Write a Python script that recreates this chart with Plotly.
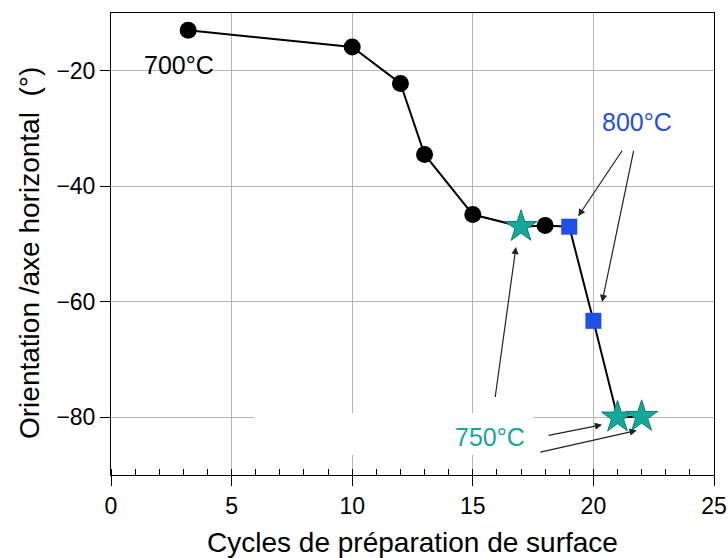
import plotly.graph_objects as go

# Data
cycles_700 = [3.2, 10, 12, 13, 15, 18]
orient_700 = [-13.0, -15.9, -22.2, -34.5, -44.9, -46.8]
cycles_750 = [17, 21, 22]
orient_750 = [-47.0, -80.0, -79.9]
cycles_800 = [19, 20]
orient_800 = [-47.0, -63.3]

path_x = [3.2, 10, 12, 13, 15, 17, 18, 19, 20, 21, 22]
path_y = [-13.0, -15.9, -22.2, -34.5, -44.9, -47.0, -46.8, -47.0, -63.3, -80.0, -79.9]

x_ticks = [0, 5, 10, 15, 20, 25]
y_ticks = [-80, -60, -40, -20]

BLUE = "#1f4fe6"
TEAL = "#13a89a"
FONT = "Liberation Sans, Arial, sans-serif"

fig = go.Figure()
fig.add_trace(go.Scatter(x=path_x, y=path_y, mode="lines",
                         line=dict(color="black", width=2), showlegend=False, hoverinfo="skip"))
fig.add_trace(go.Scatter(x=cycles_700, y=orient_700, mode="markers",
                         marker=dict(symbol="circle", size=17, color="black"), showlegend=False))
fig.add_trace(go.Scatter(x=cycles_800, y=orient_800, mode="markers",
                         marker=dict(symbol="square", size=16, color=BLUE), showlegend=False))
fig.add_trace(go.Scatter(x=cycles_750, y=orient_750, mode="markers",
                         marker=dict(symbol="star", size=24, color=TEAL,
                                     line=dict(color="#0a7f74", width=1)), showlegend=False))

# white box behind 750°C label hiding gridlines
fig.add_shape(type="rect", xref="x", yref="y", x0=5.93, x1=17.5, y0=-86.5, y1=-79.3,
              fillcolor="white", line=dict(width=0), layer="between")

annots = []
annots.append(dict(x=2.8, y=-19.0, text="700°C", showarrow=False,
                   font=dict(size=25, color="black", family=FONT)))
annots.append(dict(x=21.8, y=-28.8, text="800°C", showarrow=False,
                   font=dict(size=25, color=BLUE, family=FONT)))
annots.append(dict(x=15.71, y=-83.5, text="750°C", showarrow=False,
                   font=dict(size=25, color=TEAL, family=FONT)))
# y axis title as rotated annotation for exact placement
annots.append(dict(xref="paper", yref="paper", x=0, y=0.5, xshift=-82, yshift=-9,
                   xanchor="center", yanchor="middle",
                   text="Orientation /axe horizontal  (°)", textangle=-90, showarrow=False,
                   font=dict(size=28, color="black", family=FONT)))

arrows = [
    (21.23, -33.6, 19.37, -45.2),
    (21.68, -33.6, 20.36, -60.05),
    (15.92, -76.75, 16.79, -50.5),
    (18.08, -83.2, 20.36, -81.3),
    (17.74, -86.1, 21.8, -82.3),
]
for tx, ty, hx, hy in arrows:
    annots.append(dict(x=hx, y=hy, ax=tx, ay=ty, xref="x", yref="y", axref="x", ayref="y",
                       text="", showarrow=True, arrowhead=2, arrowsize=1.2, arrowwidth=1.2,
                       arrowcolor="#222222"))

fig.update_layout(
    width=728, height=558,
    margin=dict(l=111, r=14, t=13, b=83),
    paper_bgcolor="white", plot_bgcolor="white",
    font=dict(family=FONT, color="black", size=22),
    annotations=annots,
)
fig.update_xaxes(range=[0, 25], tickvals=x_ticks, ticks="outside", ticklen=10, tickwidth=1,
                 tickcolor="black", showline=True, linecolor="black", linewidth=1, mirror=True,
                 showgrid=True, gridcolor="#b5b5b5", gridwidth=1, zeroline=False, automargin=False,
                 tickfont=dict(size=23), title=dict(text="Cycles de préparation de surface",
                                                    font=dict(size=28), standoff=15),
                 minor=dict(dtick=1, tick0=0, ticks="inside", ticklen=6, tickcolor="black",
                            showgrid=False))
fig.update_yaxes(range=[-90, -10], tickvals=y_ticks, ticktext=["−80", "−60", "−40", "−20"],
                 ticks="outside", ticklen=10, tickwidth=1,
                 tickcolor="black", showline=True, linecolor="black", linewidth=1, mirror=True,
                 showgrid=True, gridcolor="#b5b5b5", gridwidth=1, zeroline=False, automargin=False,
                 tickfont=dict(size=23))

fig.write_html("out.html", config={"displayModeBar": False},
               post_script="document.body.style.margin='0';document.body.style.padding='0';")
